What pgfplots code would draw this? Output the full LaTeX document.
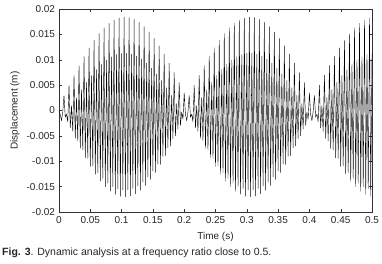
\documentclass[border=0pt]{standalone}
\usepackage{fontspec}
\setmainfont{Liberation Sans}
\usepackage{pgfplots}
\pgfplotsset{compat=1.18}
\begin{document}
\begin{tikzpicture}
\useasboundingbox (-59pt,-52pt) rectangle (323pt,212pt);
\begin{axis}[
  at={(0pt,0pt)}, anchor=south west,
  width=313pt, height=203pt, scale only axis,
  xmin=0, xmax=0.5, ymin=-0.02, ymax=0.02,
  xtick={0,0.05,0.1,0.15,0.2,0.25,0.3,0.35,0.4,0.45,0.5},
  ytick={-0.02,-0.015,-0.01,-0.005,0,0.005,0.01,0.015,0.02},
  scaled ticks=false,
  tick align=inside, tick pos=both,
  major tick length=3pt,
  /pgf/number format/assume math mode=true,
  /pgf/number format/fixed,
  /pgf/number format/precision=3,
  tick label style={font=\fontsize{10}{11}\selectfont, text=black!85},
  xticklabel style={yshift=-0.5pt},
  yticklabel style={xshift=-0.5pt},
  axis line style={black!80, line width=0.5pt},
  every tick/.style={black!80, line width=0.4pt},
  xlabel={Time (s)}, ylabel={Displacement (m)},
  label style={font=\fontsize{10}{11}\selectfont, text=black!85},
  xlabel style={at={(axis description cs:0.5,-0.122)}, anchor=center},
  ylabel style={at={(axis description cs:-0.1406,0.5)}, anchor=center},
]
\addplot[black, line width=0.4pt, line join=round] coordinates {
(0,0)
(0.002,-0.0008) (0.004,-0.00199) (0.006,-0.00025) (0.008,0.00296) (0.010,-0.00133) (0.012,-0.00072) (0.014,-0.00221) (0.016,0.00498) (0.018,-0.00345) (0.020,0.00095)
(0.022,-0.00414) (0.024,0.00696) (0.026,-0.00551) (0.028,0.00257) (0.030,-0.00601) (0.032,0.00887) (0.034,-0.00748) (0.036,0.00412) (0.038,-0.00778) (0.040,0.01066)
(0.042,-0.00933) (0.044,0.00556) (0.046,-0.00943) (0.048,0.01233) (0.050,-0.01104) (0.052,0.00689) (0.054,-0.01093) (0.056,0.01383) (0.058,-0.01257) (0.060,0.00807)
(0.062,-0.01225) (0.064,0.01516) (0.066,-0.01391) (0.068,0.00908) (0.070,-0.01339) (0.072,0.01627) (0.074,-0.01502) (0.076,0.00992) (0.078,-0.01431) (0.080,0.01717)
(0.082,-0.0159) (0.084,0.01057) (0.086,-0.01501) (0.088,0.01783) (0.090,-0.01653) (0.092,0.01102) (0.094,-0.01547) (0.096,0.01824) (0.098,-0.0169) (0.100,0.01126)
(0.102,-0.01568) (0.104,0.0184) (0.106,-0.017) (0.108,0.01129) (0.110,-0.01565) (0.112,0.0183) (0.114,-0.01683) (0.116,0.0111) (0.118,-0.01537) (0.120,0.01795)
(0.122,-0.0164) (0.124,0.0107) (0.126,-0.01485) (0.128,0.01735) (0.130,-0.01571) (0.132,0.0101) (0.134,-0.0141) (0.136,0.01652) (0.138,-0.01477) (0.140,0.00931)
(0.142,-0.01312) (0.144,0.01545) (0.146,-0.01359) (0.148,0.00834) (0.150,-0.01194) (0.152,0.01418) (0.154,-0.01221) (0.156,0.00719) (0.158,-0.01057) (0.160,0.01272)
(0.162,-0.01063) (0.164,0.00591) (0.166,-0.00903) (0.168,0.01109) (0.170,-0.00888) (0.172,0.00449) (0.174,-0.00735) (0.176,0.00933) (0.178,-0.007) (0.180,0.00297)
(0.182,-0.00555) (0.184,0.00745) (0.186,-0.005) (0.188,0.00136) (0.190,-0.00366) (0.192,0.00549) (0.194,-0.00292) (0.196,-0.0003) (0.198,-0.00172) (0.200,0.00347)
(0.202,-0.0008) (0.204,-0.00199) (0.206,-0.00025) (0.208,0.00296) (0.210,-0.00133) (0.212,-0.00072) (0.214,-0.00221) (0.216,0.00498) (0.218,-0.00345) (0.220,0.00095)
(0.222,-0.00414) (0.224,0.00696) (0.226,-0.00551) (0.228,0.00257) (0.230,-0.00601) (0.232,0.00887) (0.234,-0.00748) (0.236,0.00412) (0.238,-0.00778) (0.240,0.01066)
(0.242,-0.00933) (0.244,0.00556) (0.246,-0.00943) (0.248,0.01233) (0.250,-0.01104) (0.252,0.00689) (0.254,-0.01093) (0.256,0.01383) (0.258,-0.01257) (0.260,0.00807)
(0.262,-0.01225) (0.264,0.01516) (0.266,-0.01391) (0.268,0.00908) (0.270,-0.01339) (0.272,0.01627) (0.274,-0.01502) (0.276,0.00992) (0.278,-0.01431) (0.280,0.01717)
(0.282,-0.0159) (0.284,0.01057) (0.286,-0.01501) (0.288,0.01783) (0.290,-0.01653) (0.292,0.01102) (0.294,-0.01547) (0.296,0.01824) (0.298,-0.0169) (0.300,0.01126)
(0.302,-0.01568) (0.304,0.0184) (0.306,-0.017) (0.308,0.01129) (0.310,-0.01565) (0.312,0.0183) (0.314,-0.01683) (0.316,0.0111) (0.318,-0.01537) (0.320,0.01795)
(0.322,-0.0164) (0.324,0.0107) (0.326,-0.01485) (0.328,0.01735) (0.330,-0.01571) (0.332,0.0101) (0.334,-0.0141) (0.336,0.01652) (0.338,-0.01477) (0.340,0.00931)
(0.342,-0.01312) (0.344,0.01545) (0.346,-0.01359) (0.348,0.00834) (0.350,-0.01194) (0.352,0.01418) (0.354,-0.01221) (0.356,0.00719) (0.358,-0.01057) (0.360,0.01272)
(0.362,-0.01063) (0.364,0.00591) (0.366,-0.00903) (0.368,0.01109) (0.370,-0.00888) (0.372,0.00449) (0.374,-0.00735) (0.376,0.00933) (0.378,-0.007) (0.380,0.00297)
(0.382,-0.00555) (0.384,0.00745) (0.386,-0.005) (0.388,0.00136) (0.390,-0.00366) (0.392,0.00549) (0.394,-0.00292) (0.396,-0.0003) (0.398,-0.00172) (0.400,0.00347)
(0.402,-0.0008) (0.404,-0.00199) (0.406,-0.00025) (0.408,0.00296) (0.410,-0.00133) (0.412,-0.00072) (0.414,-0.00221) (0.416,0.00498) (0.418,-0.00345) (0.420,0.00095)
(0.422,-0.00414) (0.424,0.00696) (0.426,-0.00551) (0.428,0.00257) (0.430,-0.00601) (0.432,0.00887) (0.434,-0.00748) (0.436,0.00412) (0.438,-0.00778) (0.440,0.01066)
(0.442,-0.00933) (0.444,0.00556) (0.446,-0.00943) (0.448,0.01233) (0.450,-0.01104) (0.452,0.00689) (0.454,-0.01093) (0.456,0.01383) (0.458,-0.01257) (0.460,0.00807)
(0.462,-0.01225) (0.464,0.01516) (0.466,-0.01391) (0.468,0.00908) (0.470,-0.01339) (0.472,0.01627) (0.474,-0.01502) (0.476,0.00992) (0.478,-0.01431) (0.480,0.01717)
(0.482,-0.0159) (0.484,0.01057) (0.486,-0.01501) (0.488,0.01783) (0.490,-0.01653) (0.492,0.01102) (0.494,-0.01547) (0.496,0.01824) (0.498,-0.0169) (0.500,0.01126)
};
\end{axis}
\node[anchor=west, inner sep=0pt, font=\fontsize{10.5}{12}\selectfont, text=black!85] at (-57pt,-41pt) {\textbf{Fig. 3}. Dynamic analysis at a frequency ratio close to 0.5.};
\end{tikzpicture}
\end{document}
